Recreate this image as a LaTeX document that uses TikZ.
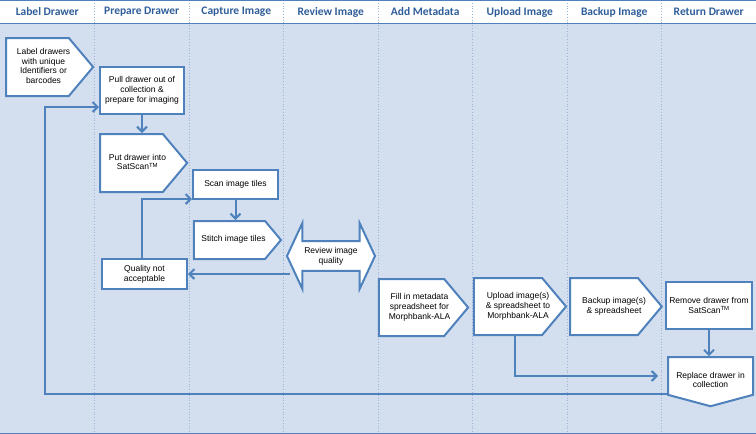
\documentclass[tikz,border=0pt]{standalone}
\usepackage{fontspec}
\setmainfont{Liberation Sans}
\newfontfamily\headfont{Carlito}
\usetikzlibrary{arrows.meta, positioning, shapes.symbols, shapes.arrows}
\definecolor{cblue}{HTML}{4F81BD}
\definecolor{chead}{HTML}{2F5D99}
\definecolor{cpane}{HTML}{D3DFEE}
\definecolor{cdiv}{HTML}{9DB3D6}
% text pushed towards the point of a signal node, box size unchanged
\newcommand\tipward[2]{\begin{tabular}{@{\hspace{#1}}c@{\hspace{-#1}}}#2\end{tabular}}
\tikzset{
  every picture/.style={x=1pt, y=-1pt, line width=2pt},
  box/.style={draw=cblue, fill=white, align=center, inner sep=2pt, font=\fontsize{8.5}{9.8}\selectfont},
  sbox/.style={box, shape=signal, signal to=east, signal pointer angle=100},
  arrow/.style={-{Straight Barb[length=5pt, width=10pt]}, draw=cblue, line width=2pt},
  lane/.style={font=\headfont\bfseries\fontsize{11.5}{13}\selectfont, text=chead},
}

\begin{document}
\begin{tikzpicture}
  \useasboundingbox (0,0) rectangle (756,434);
  % swimlane background
  \fill[white] (0,0) rectangle (756,24);
  \fill[cpane] (0,24) rectangle (756,434);
  \foreach \i in {1,...,7}
    \draw[cdiv, dotted, line width=0.8pt] ({94.5*\i},0) -- ({94.5*\i},434);
  \draw[cblue, line width=1pt] (0,0.5) -- (756,0.5);
  \draw[cblue, line width=1.2pt] (0,23.5) -- (756,23.5);
  \draw[cblue, line width=1.2pt] (0,433.4) -- (756,433.4);
  \foreach \name [count=\i] in {Label Drawer, Prepare Drawer, Capture Image, Review Image,
      Add Metadata, Upload Image, Backup Image, Return Drawer}
    \node[lane] (lane\i) at ({94.5*\i-47.25},12) {\name};

  % steps (signal nodes sit at the centre of their body)
  \node[sbox, minimum width=87pt, minimum height=58pt] (lbl) at (37.5,67) {\tipward{6pt}{Label drawers\\with unique\\Identifiers or\\barcodes}};
  \node[box, minimum width=84pt, minimum height=47pt] (pull) at (142,90.5) {Pull drawer out of\\collection \&\\prepare for imaging};
  \node[sbox, minimum width=87pt, minimum height=58pt] (put) at (131.5,163) {\tipward{6pt}{Put drawer into\\SatScan\textsuperscript{TM}}};
  \node[box, minimum width=85pt, minimum height=29pt] (scan) at (235.5,184.5) {Scan image tiles};
  \node[sbox, minimum width=87pt, minimum height=38pt] (stitch) at (229.5,240) {\tipward{4pt}{Stitch image tiles}};
  \node[box, minimum width=85pt, minimum height=30pt] (qual) at (144.5,274) {Quality not\\acceptable};
  \node[box, shape=double arrow, double arrow head extend=17pt, double arrow tip angle=130,
        minimum height=88pt, minimum width=66pt, inner sep=4pt] (review) at (331,256) {Review image\\quality};
  \node[sbox, minimum width=87pt, minimum height=57pt] (fill) at (411.5,307.5) {\tipward{8pt}{Fill in metadata\\spreadsheet for\\Morphbank-ALA}};
  \node[sbox, minimum width=88pt, minimum height=57pt] (upl) at (508,306.5) {\tipward{10pt}{Upload image(s)\\\& spreadsheet to\\Morphbank-ALA}};
  \node[sbox, minimum width=88pt, minimum height=57pt] (bak) at (604,306.5) {\tipward{10pt}{Backup image(s)\\\& spreadsheet}};
  \node[box, minimum width=86pt, minimum height=47pt] (rem) at (709,305.5) {Remove drawer from\\SatScan\textsuperscript{TM}};
  \node[sbox, signal to=south, signal pointer angle=150, minimum width=85pt, minimum height=49pt] (rep) at (710.5,376) {\raisebox{-5pt}[\height][\depth]{\begin{tabular}{c}Replace drawer in\\collection\end{tabular}}};

  % flow
  \coordinate (ret) at (45,394);
  \coordinate (retTop) at (45,107);
  \draw[arrow] (pull.south) -- (pull.south |- put.north);
  \draw[arrow] (scan.south) -- (scan.south |- stitch.north);
  \draw[arrow] (rem.south) -- (rem.south |- rep.north);
  \draw[arrow] ([xshift=-3pt]qual.north) |- ([yshift=1pt]scan.south west);
  \draw[arrow] ([xshift=4pt]review.west |- qual.east) -- (qual.east);
  \draw[arrow] ([xshift=7pt]upl.south) |- ([xshift=-9pt]rep.west);
  \draw[arrow] (ret -| rep.west) -- (ret) -- (retTop) -- (retTop -| pull.west);
\end{tikzpicture}
\end{document}
